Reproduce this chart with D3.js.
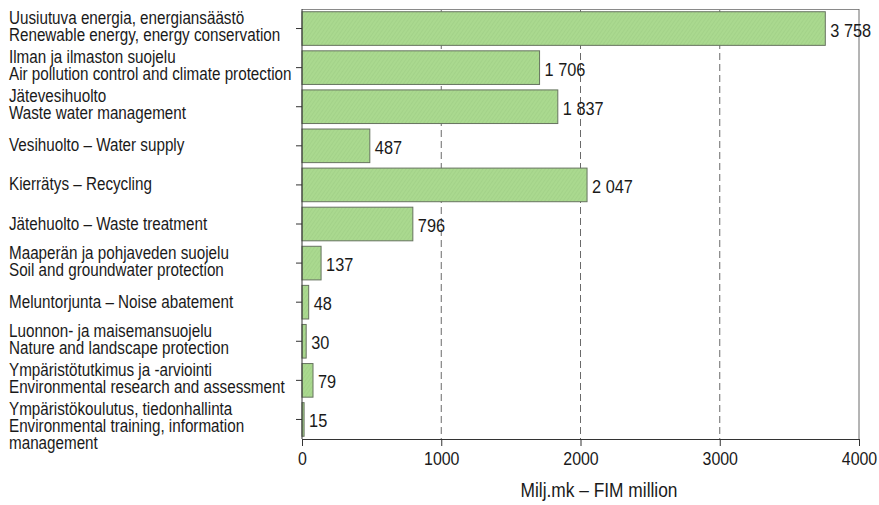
<!DOCTYPE html>
<html>
<head>
<meta charset="utf-8">
<script src="https://cdn.jsdelivr.net/npm/d3@7"></script>
<style>
  html, body { margin: 0; padding: 0; background: #fff; }
  svg { display: block; }
  text { font-family: "Liberation Sans", Arial, sans-serif; fill: #1a1a1a; }
</style>
</head>
<body>
<svg id="chart" width="879" height="505"></svg>
<script>
// ---- data ----
const categories = [
  "Uusiutuva energia, energiansäästö\nRenewable energy, energy conservation",
  "Ilman ja ilmaston suojelu\nAir pollution control and climate protection",
  "Jätevesihuolto\nWaste water management",
  "Vesihuolto – Water supply",
  "Kierrätys – Recycling",
  "Jätehuolto – Waste treatment",
  "Maaperän ja pohjaveden suojelu\nSoil and groundwater protection",
  "Meluntorjunta – Noise abatement",
  "Luonnon- ja maisemansuojelu\nNature and landscape protection",
  "Ympäristötutkimus ja -arviointi\nEnvironmental research and assessment",
  "Ympäristökoulutus, tiedonhallinta\nEnvironmental training, information\nmanagement"
];
const values = [3758, 1706, 1837, 487, 2047, 796, 137, 48, 30, 79, 15];
const xTicks = [0, 1000, 2000, 3000, 4000];
const xTitle = "Milj.mk – FIM million";

// ---- layout ----
const svg = d3.select("#chart");
const x = d3.scaleLinear().domain([0, 4000]).range([302, 859]);
const y = d3.scaleBand().domain(d3.range(categories.length)).range([9, 439])
  .paddingInner(0.14).paddingOuter(0.07);

// horizontal condensing (reference uses a condensed typeface)
const squeeze = (sel, sx) => sel.each(function() {
  const t = d3.select(this);
  const tx = +t.attr("x") || 0, ty = +t.attr("y") || 0;
  t.attr("x", null).attr("y", null)
   .attr("transform", `translate(${tx},${ty}) scale(${sx},1)`);
});

// pattern for bar hatch
const defs = svg.append("defs");
const pat = defs.append("pattern").attr("id", "hatch").attr("patternUnits", "userSpaceOnUse")
  .attr("width", 3).attr("height", 3).attr("patternTransform", "rotate(35)");
pat.append("rect").attr("width", 3).attr("height", 3).attr("fill", "#aad98f");
pat.append("line").attr("x1", 0).attr("y1", 0).attr("x2", 0).attr("y2", 3)
  .attr("stroke", "#9ccc83").attr("stroke-width", 1);

// gridlines
svg.append("g").selectAll("line").data(xTicks.filter(d => d > 0 && d < 4000)).join("line")
  .attr("x1", d => x(d)).attr("x2", d => x(d)).attr("y1", 9).attr("y2", 439)
  .attr("stroke", "#6a6a6a").attr("stroke-width", 1).attr("stroke-dasharray", "7,4");

// frame top & right
svg.append("line").attr("x1", x(0)).attr("x2", x(4000)).attr("y1", 9.5).attr("y2", 9.5)
  .attr("stroke", "#8a8a8a").attr("stroke-width", 1);
svg.append("line").attr("x1", x(4000)).attr("x2", x(4000)).attr("y1", 9).attr("y2", 439)
  .attr("stroke", "#6a6a6a").attr("stroke-width", 1);

// bars
svg.append("g").selectAll("rect").data(values).join("rect")
  .attr("x", x(0)).attr("y", (d, i) => y(i))
  .attr("width", d => x(d) - x(0)).attr("height", y.bandwidth())
  .attr("fill", "url(#hatch)").attr("stroke", "#66735f").attr("stroke-width", 1);

// value labels
const fmt = v => d3.format(",")(v).replace(/,/g, " ");
svg.append("g").selectAll("text").data(values).join("text")
  .attr("x", d => x(d) + 5).attr("y", (d, i) => y(i) + y.bandwidth() / 2 + 8)
  .attr("font-size", 19).text(d => fmt(d))
  .call(squeeze, 0.86);

// x axis
const xAxis = d3.axisBottom(x).tickValues(xTicks).tickSize(7).tickPadding(6).tickFormat(d3.format("d"));
const gx = svg.append("g").attr("transform", "translate(0,439)").call(xAxis);
gx.select(".domain").attr("stroke", "#333");
gx.selectAll(".tick line").attr("stroke", "#333");
gx.selectAll(".tick text").attr("font-size", 19).attr("font-family", null).attr("fill", "#1a1a1a")
  .attr("transform", "scale(0.84,1)");

// y axis (ticks only, labels drawn separately)
const yAxis = d3.axisLeft(y).tickSize(6).tickFormat("");
const gy = svg.append("g").attr("transform", `translate(${x(0)},0)`).call(yAxis);
gy.select(".domain").attr("stroke", "#333").attr("d", "M0,9V439");
gy.selectAll(".tick line").attr("stroke", "#333");

// category labels
const lab = svg.append("g").selectAll("text").data(categories).join("text")
  .attr("x", 9).attr("font-size", 17.5)
  .attr("y", (d, i) => {
    const c = y(i) + y.bandwidth() / 2;
    return d.includes("\n") ? c - 4.5 : c + 5.5;
  });
lab.each(function(d) {
  const t = d3.select(this);
  d.split("\n").forEach((line, k) => {
    t.append("tspan").attr("x", 0).attr("dy", k === 0 ? 0 : 17).text(line);
  });
});
lab.call(squeeze, 0.87);

// axis title
svg.append("text").attr("x", 599).attr("y", 497).attr("text-anchor", "middle")
  .attr("font-size", 19.5).text(xTitle)
  .call(squeeze, 0.89);
</script>
</body>
</html>
